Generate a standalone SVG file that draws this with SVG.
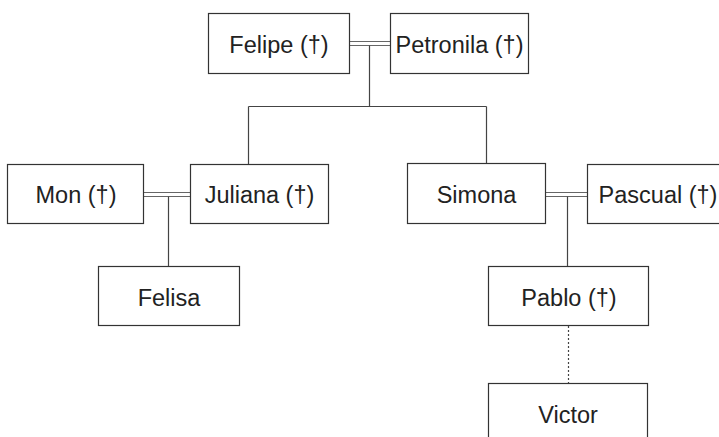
<svg xmlns="http://www.w3.org/2000/svg" width="719" height="437" viewBox="0 0 719 437">
<style>
.box{fill:#fff;stroke:#333;stroke-width:1.2}
.lbl{font-family:"Liberation Sans",Arial,sans-serif;font-size:23.5px;fill:#222;text-anchor:middle}
.ln{fill:none;stroke:#444;stroke-width:1.2}
.dbl{fill:none;stroke:#666;stroke-width:1}
.dot{fill:none;stroke:#444;stroke-width:1.2;stroke-dasharray:2 2}
</style>
<rect width="719" height="437" fill="#fff"/>
<g id="connectors">
<path class="dbl" d="M349 41.5H390M349 45.5H390"/>
<path class="ln" d="M369.5 45.5V106.5M248.5 106.5H486.5M248.5 106.5V164M486.5 106.5V163"/>
<path class="dbl" d="M143 192.5H190M143 196.5H190"/>
<path class="ln" d="M168.5 196.5V266"/>
<path class="dbl" d="M545 192.5H587M545 196.5H587"/>
<path class="ln" d="M567.5 196.5V266"/>
<path class="dot" d="M568.5 326V383"/>
</g>
<g id="felipe"><rect class="box" x="208.5" y="13.5" width="141" height="60"/><text class="lbl" x="279" y="52.5">Felipe (†)</text></g>
<g id="petronila"><rect class="box" x="390.5" y="13.5" width="138" height="60"/><text class="lbl" x="459.5" y="52.5">Petronila (†)</text></g>
<g id="mon"><rect class="box" x="7.5" y="164.5" width="136" height="59"/><text class="lbl" x="76" y="203">Mon (†)</text></g>
<g id="juliana"><rect class="box" x="190.5" y="164.5" width="138" height="59"/><text class="lbl" x="259.5" y="203">Juliana (†)</text></g>
<g id="simona"><rect class="box" x="407.5" y="163.5" width="138" height="60"/><text class="lbl" x="476.5" y="202.5">Simona</text></g>
<g id="pascual"><rect class="box" x="587.5" y="164.5" width="140" height="59"/><text class="lbl" x="658" y="203">Pascual (†)</text></g>
<g id="felisa"><rect class="box" x="98.5" y="266.5" width="141" height="59"/><text class="lbl" x="169" y="305.5">Felisa</text></g>
<g id="pablo"><rect class="box" x="488.5" y="266.5" width="160" height="59"/><text class="lbl" x="569" y="305.5">Pablo (†)</text></g>
<g id="victor"><rect class="box" x="488.5" y="383.5" width="159" height="60"/><text class="lbl" x="568" y="422.5">Victor</text></g>
</svg>
